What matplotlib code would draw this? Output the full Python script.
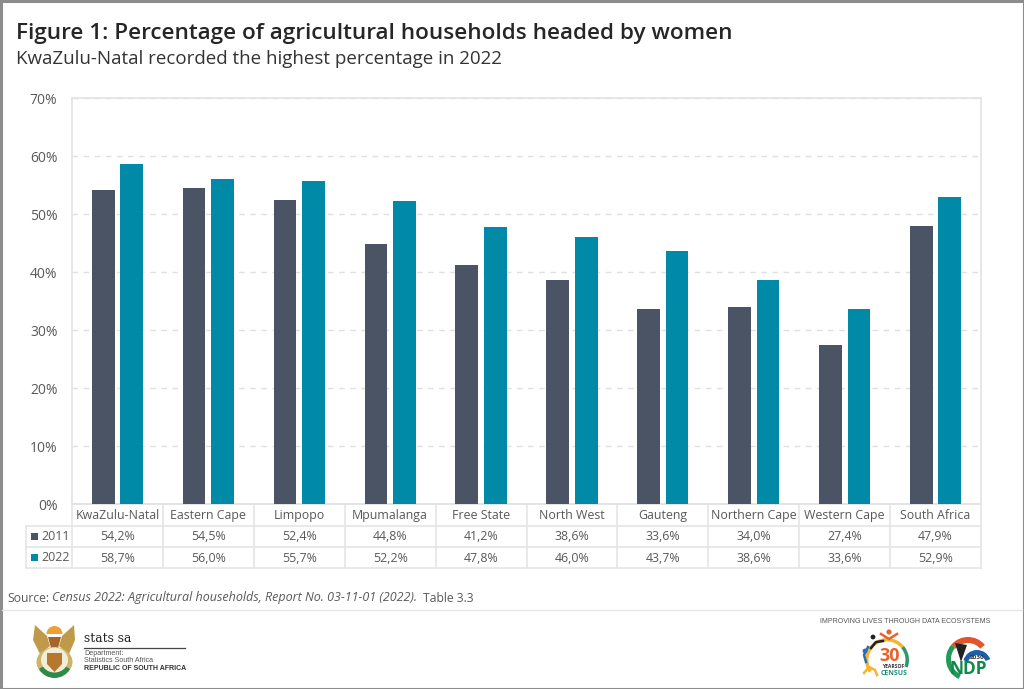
import matplotlib
matplotlib.use("Agg")
import matplotlib.pyplot as plt
import numpy as np
from matplotlib.patches import Circle, Rectangle, Wedge, Polygon, Ellipse

plt.rcParams['font.family'] = ['Open Sans', 'DejaVu Sans']

provinces = ['KwaZulu-Natal', 'Eastern Cape', 'Limpopo', 'Mpumalanga', 'Free State',
             'North West', 'Gauteng', 'Northern Cape', 'Western Cape', 'South Africa']
y2011 = [54.2, 54.5, 52.4, 44.8, 41.2, 38.6, 33.6, 34.0, 27.4, 47.9]
y2022 = [58.7, 56.0, 55.7, 52.2, 47.8, 46.0, 43.7, 38.6, 33.6, 52.9]
yticks = [0, 10, 20, 30, 40, 50, 60, 70]

c2011 = '#4a5464'
c2022 = '#008aa8'
txt = '#595959'
line = '#e3e3e3'
W, H = 1024, 689


def comma(v):
    return f'{v:.1f}%'.replace('.', ',')


fig = plt.figure(figsize=(W / 100, H / 100), dpi=100)

# overlay in pixel coordinates for the table, header, footer
bg = fig.add_axes([0, 0, 1, 1])
bg.set_xlim(0, W)
bg.set_ylim(H, 0)
bg.axis('off')

left, right, top, bottom = 72, 981, 98, 504
ax = fig.add_axes([left / W, 1 - bottom / H, (right - left) / W, (bottom - top) / H])
ax.patch.set_alpha(0)
x = np.arange(len(provinces))
ax.bar(x - 0.157, y2011, 0.25, color=c2011, zorder=3)
ax.bar(x + 0.157, y2022, 0.25, color=c2022, zorder=3)
ax.set_xlim(-0.5, len(provinces) - 0.5)
ax.set_ylim(0, 70)
ax.set_yticks(yticks)
ax.set_yticklabels([f'{t}%' for t in yticks], color=txt, fontsize=10)
ax.tick_params(axis='y', length=0, pad=10.5)
ax.set_xticks([])
ax.grid(axis='y', color='#e0e0e0', linestyle=(0, (4, 4)), linewidth=1, zorder=0)
for s in ax.spines.values():
    s.set_color(line)
    s.set_linewidth(1.2)

# header
bg.text(16, 33, 'Figure 1: Percentage of agricultural households headed by women',
        fontsize=16.2, fontweight='semibold', color='#262626', va='center')
bg.text(16, 59, 'KwaZulu-Natal recorded the highest percentage in 2022',
        fontsize=13.5, color='#333333', va='center')

# data table
rows = [504, 526, 547, 568]
cw = (right - left) / len(provinces)
for r in rows:
    bg.plot([left if r == rows[0] else 26, right], [r, r], color=line, lw=1.1)
for i in range(len(provinces) + 1):
    bg.plot([left + i * cw] * 2, [rows[0], rows[-1]], color=line, lw=1.1)
bg.plot([26, 26], [rows[1], rows[-1]], color=line, lw=1.1)
for i, p in enumerate(provinces):
    cx = left + (i + 0.5) * cw
    bg.text(cx, 515.5, p, ha='center', va='center', fontsize=8.9, color=txt)
    bg.text(cx, 537, comma(y2011[i]), ha='center', va='center', fontsize=8.9, color=txt)
    bg.text(cx, 558.5, comma(y2022[i]), ha='center', va='center', fontsize=8.9, color=txt)
for label, col, yc in [('2011', c2011, 536), ('2022', c2022, 557)]:
    bg.add_patch(Rectangle((30.5, yc - 3.5), 7.5, 7.5, color=col, lw=0))
    bg.text(41, yc + 0.5, label, ha='left', va='center', fontsize=8.9, color=txt)

# source line and footer rule
bg.text(7, 598, 'Source:', fontsize=8.7, color=txt, va='center')
bg.text(52, 598, 'Census 2022: Agricultural households, Report No. 03-11-01 (2022).',
        fontsize=9.0, color=txt, va='center', style='italic')
bg.text(423, 598, 'Table 3.3', fontsize=8.7, color=txt, va='center')
bg.plot([2, W - 2], [610, 610], color='#e6e6e6', lw=1)

# stats sa block
bg.text(84, 638, 'stats sa', fontsize=8.8, family='DejaVu Serif', color='#222222', va='center')
bg.plot([84, 185], [647.5, 647.5], color='#444444', lw=0.9)
bg.text(84, 653.5, 'Department:', fontsize=5.1, family='Liberation Sans', color='#555555', va='center')
bg.text(84, 661, 'Statistics South Africa', fontsize=5.1, family='Liberation Sans', color='#555555', va='center')
bg.text(84, 668.5, 'REPUBLIC OF SOUTH AFRICA', fontsize=5.0, family='Liberation Sans',
        fontweight='bold', color='#333333', va='center')

# coat of arms, rough (y axis is flipped here so wedge angles run clockwise)
bg.add_patch(Polygon([(35, 625), (33, 640), (40, 654), (50, 646), (47, 636)], color='#bf9a4a', lw=0))
bg.add_patch(Polygon([(74, 625), (75, 640), (69, 654), (59, 646), (62, 636)], color='#bf9a4a', lw=0))
bg.add_patch(Wedge((54.5, 634), 8, 180, 360, color='#f0a030', lw=0))
bg.add_patch(Polygon([(48, 637), (61, 637), (58, 648), (51, 648)], color='#a8652a', lw=0))
bg.add_patch(Ellipse((54.5, 662), 36, 30, color='#cdb468', lw=0))
bg.add_patch(Wedge((54.5, 660), 18, 30, 150, color='#2f8a4a', lw=0))
bg.add_patch(Ellipse((54.5, 660), 27, 25, color='#f3ecd6', lw=0))
bg.add_patch(Polygon([(47, 653), (62, 653), (62, 664), (54.5, 672), (47, 664)], color='#b8772e', lw=0))

# right footer
bg.text(905, 621.5, 'IMPROVING LIVES THROUGH DATA ECOSYSTEMS', fontsize=5.05,
        family='Liberation Sans', color='#555555', ha='center', va='center')

# census logo, rough
bg.add_patch(Wedge((887, 660), 22, 320, 20, width=3.5, color='#2e9a6a', lw=0))
bg.add_patch(Wedge((887, 660), 22, 145, 320, width=3.5, color='#f2b632', lw=0))
bg.add_patch(Circle((889, 632), 2.6, color='#e8632c', lw=0))
bg.plot([881, 889, 897], [634, 639, 634], color='#e8632c', lw=1.8)
bg.add_patch(Circle((873, 637), 2.4, color='#222222', lw=0))
bg.plot([871, 876, 883], [648, 642, 641], color='#222222', lw=1.8)
bg.add_patch(Circle((865, 651), 2.4, color='#2a6fb5', lw=0))
bg.plot([868, 864, 866], [647, 655, 662], color='#2a6fb5', lw=1.8)
bg.plot([864, 869, 875, 877], [673, 667, 670, 675], color='#f2b632', lw=1.8)
bg.text(890, 656, '30', fontsize=13, fontweight='bold', color='#e8632c', ha='center', va='center')
bg.text(893, 666.5, 'YEARSOF', fontsize=3.6, fontweight='bold', color='#333333', ha='center', va='center')
bg.text(894, 673.5, 'CENSUS', fontsize=5, fontweight='bold', color='#1f8f7a', ha='center', va='center')

# NDP logo, rough
bg.add_patch(Wedge((968, 659), 22, 220, 320, width=6, color='#e0552b', lw=0))
bg.add_patch(Wedge((968, 659), 22, 115, 220, width=5, color='#1f9a57', lw=0))
bg.add_patch(Polygon([(955, 643), (967, 645), (961, 662)], color='#222222', lw=0))
bg.add_patch(Wedge((977, 664), 14, 195, 340, width=5, color='#1c5ea8', lw=0))
bg.text(968.5, 669, 'NDP', fontsize=12.5, fontweight='bold', color='#12894a', ha='center', va='center')
bg.text(977, 657.5, '2030', fontsize=4.6, fontweight='bold', color='#333333', ha='center', va='center')

# outer frame
bg.add_patch(Rectangle((0.5, 0.5), W - 1, H - 1, fill=False, ec='#8c8c8c', lw=2.2))

fig.savefig('out.png', dpi=100)
